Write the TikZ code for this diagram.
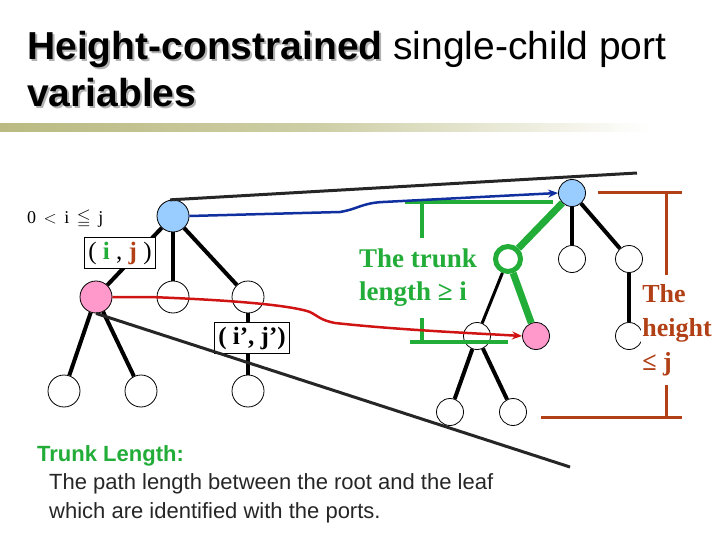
\documentclass[tikz,border=0pt]{standalone}
\usepackage{fontspec}
\setmainfont{Liberation Serif}
\setsansfont{Liberation Sans}
\usepackage{amssymb}
\usetikzlibrary{positioning,arrows.meta}

\definecolor{trunkgreen}{RGB}{34,172,56}
\definecolor{heightbrown}{RGB}{178,64,22}
\definecolor{rootblue}{RGB}{153,204,255}
\definecolor{leafpink}{RGB}{255,153,204}
\definecolor{varblue}{RGB}{16,48,160}
\definecolor{varred}{RGB}{208,20,20}
\definecolor{barolive}{RGB}{186,186,130}

\begin{document}
\begin{tikzpicture}[
    x=1pt, y=-1pt,
    on grid,
    >=Stealth,
    vert/.style = {circle, draw=black, line width=0.8pt, fill=white, minimum size=32pt, inner sep=0pt},
    rvert/.style = {vert, minimum size=27pt},
    edge/.style = {line width=4pt},
    trunk/.style = {draw=trunkgreen, line width=7pt},
    port/.style = {draw=black, line width=0.8pt, fill=white, inner xsep=4pt, inner ysep=4pt,
                   font=\fontsize{25}{25}\selectfont},
    measure/.style = {fill=white, align=left, inner xsep=1pt, font=\bfseries\fontsize{27}{33}\selectfont},
    title/.style = {anchor=north west, inner sep=0pt, align=left, font=\sffamily\fontsize{39}{47}\selectfont}
]
\useasboundingbox (0,0) rectangle (720,540);

% --- Title and bar ---
\node[title, text=black!30] (ttlshadow) at (29,33) {\textbf{Height-constrained}\phantom{ single-child port}\\\textbf{variables}};
\node[title] (ttl) at (27,31) {\textbf{Height-constrained} single-child port\\\textbf{variables}};
\shade[left color=barolive, right color=white, middle color=barolive!70] (0,124) rectangle (650,132);

\node[anchor=base west, inner sep=0pt, font=\fontsize{18}{18}\selectfont] (cond) at (27,224) {0 \,$<$\, i \,$\leqq$\, j};

% --- Left tree ---
\node[vert, fill=rootblue] (lroot) at (173,216) {};
\node[vert, fill=leafpink, below left=81pt and 77pt of lroot] (lpink) {};
\node[vert, below=81pt of lroot] (lmid) {};
\node[vert, below right=81pt and 75pt of lroot] (lright) {};
\node[vert, below left=94pt and 32pt of lpink] (lpl) {};
\node[vert, below right=94pt and 45pt of lpink] (lpr) {};
\node[vert, below=94pt of lright] (lrc) {};

\draw[edge] (lroot) -- (lpink);
\draw[edge] (lroot) -- (lmid);
\draw[edge] (lroot) -- (lright);
\draw[edge] (lpink) -- (lpl);
\draw[edge] (lpink) -- (lpr);
\draw[edge] (lright) -- (lrc);

\node[port] (ij) at (120,253) {( {\bfseries\color{trunkgreen}i} , {\bfseries\color{heightbrown}j} )};
\node[port, font=\bfseries\fontsize{25}{25}\selectfont] (ijprime) at (252,338) {( i’, j’)};

% --- Right tree ---
\node[rvert, fill=rootblue] (rroot) at (572,193) {};
\node[circle, draw=trunkgreen, line width=5pt, fill=white, minimum size=25pt, inner sep=0pt,
      below left=66pt and 64pt of rroot] (rgreen) {};
\node[rvert, below=66pt of rroot] (rmid) {};
\node[rvert, below right=66pt and 57pt of rroot] (rright) {};
\node[rvert, below left=77pt and 31pt of rgreen] (rw) {};
\node[rvert, fill=leafpink, below right=77pt and 28pt of rgreen] (rpink) {};
\node[rvert, below=77pt of rright] (rrc) {};
\node[rvert, below left=76pt and 27pt of rw] (rll) {};
\node[rvert, below right=76pt and 36pt of rw] (rlr) {};

\draw[trunk] (rroot) -- (rgreen);
\draw[trunk] (rgreen) -- (rpink);
\draw[edge, line width=3pt] (rgreen) -- (rw);
\draw[edge] (rroot) -- (rmid);
\draw[edge] (rroot) -- (rright);
\draw[edge] (rright) -- (rrc);
\draw[edge] (rw) -- (rll);
\draw[edge] (rw) -- (rlr);

% --- Long lines ---
\coordinate (topend) at (637,173);
\coordinate (botend) at (570,467);
\draw[line width=3pt, black!85] (lroot.100) -- (topend);
\draw[line width=3pt, black!85] (lpink.south) -- (botend);

% --- Trunk length bracket ---
\draw[trunkgreen, line width=4pt] (405,202) -- (553,202);
\draw[trunkgreen, line width=4pt] (422,202) -- (422,342);
\draw[trunkgreen, line width=4pt] (410,342) -- (508,342);
\node[measure, text=trunkgreen, inner ysep=11pt] (trunklen) at (418,278) {The trunk\\length ≥ i};

% --- Height bracket ---
\draw[heightbrown, line width=3pt] (598,193) -- (682,193);
\draw[heightbrown, line width=3pt] (666,193) -- (666,417);
\draw[heightbrown, line width=3pt] (541,417) -- (682,417);
\node[measure, text=heightbrown, font=\bfseries\fontsize{26}{34}\selectfont, inner ysep=9pt] (height) at (677,330) {The\\height\\≤ j};

% --- Port variables ---
\draw[varblue, line width=2.5pt, -{Stealth[length=10pt,width=8pt]}]
    (lroot.east) -- (340,212) .. controls (358,209) and (362,203) .. (383,202) -- (rroot.west);
\draw[varred, line width=2.5pt, -{Stealth[length=10pt,width=8pt]}]
    (lpink.east) -- (150,297) .. controls (230,300) and (290,305) .. (310,312)
    .. controls (318,316) and (320,320) .. (335,323) .. controls (400,330) and (470,333) .. (rpink.west);

% --- Note ---
\node[anchor=north west, align=left, inner sep=0pt, font=\sffamily\fontsize{22}{28.5}\selectfont, text=black!85] (note) at (37,445)
    {\textcolor{trunkgreen}{\bfseries Trunk Length:}\\\hspace*{12pt}The path length between the root and the leaf\\\hspace*{12pt}which are identified with the ports.};

\end{tikzpicture}
\end{document}
